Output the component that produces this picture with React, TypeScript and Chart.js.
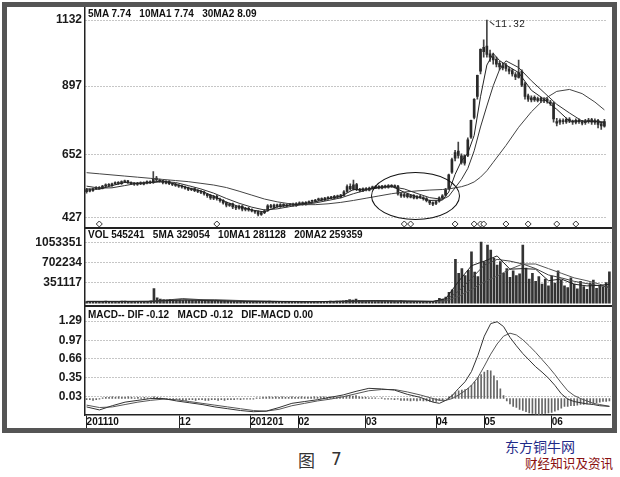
import React, { useEffect, useRef } from 'react';
import { Chart, registerables } from 'chart.js';

Chart.register(...registerables);

// ---------------- price candles (value in 0.01 yuan) ----------------
const opens = [
  520, 528, 524, 531, 536, 533, 540, 546, 542, 549,
  553, 549, 555, 559, 552, 550, 546, 552, 547, 551,
  556, 552, 569, 561, 559, 551, 557, 548, 547, 542,
  541, 536, 534, 527, 531, 525, 520, 519, 511, 507,
  497, 504, 494, 489, 481, 471, 477, 467, 461, 469,
  457, 461, 456, 451, 449, 439, 445, 453, 471, 464,
  473, 467, 475, 469, 474, 477, 471, 477, 481, 475,
  481, 486, 486, 491, 495, 491, 496, 501, 497, 505,
  501, 507, 521, 539, 529, 546, 529, 523, 531, 526,
  534, 535, 539, 533, 541, 536, 543, 538, 540, 513,
  504, 511, 501, 507, 497, 504, 499, 496, 487, 481,
  478, 486, 497, 508, 532, 590, 640, 665, 648, 622,
  650, 715, 785, 860, 950, 1020, 1040, 1012, 1002, 992,
  978, 962, 972, 958, 952, 938, 928, 950, 905, 862,
  848, 857, 846, 853, 844, 851, 840, 836, 770, 768,
  772, 769, 779, 771, 767, 776, 768, 766, 771, 777,
  767, 775, 762, 754,
];
const closes = [
  528, 522, 530, 535, 532, 540, 545, 543, 548, 552,
  550, 556, 558, 553, 549, 547, 551, 548, 552, 556,
  553, 568, 562, 558, 552, 556, 549, 546, 543, 540,
  537, 533, 528, 530, 524, 521, 518, 512, 506, 498,
  503, 495, 488, 480, 472, 476, 466, 462, 468, 458,
  460, 455, 452, 448, 440, 446, 452, 470, 465, 472,
  468, 474, 470, 473, 476, 472, 478, 480, 476, 482,
  485, 487, 490, 494, 492, 497, 500, 498, 504, 502,
  508, 520, 538, 530, 545, 528, 524, 530, 527, 533,
  536, 538, 534, 540, 537, 542, 539, 541, 512, 505,
  510, 502, 506, 498, 503, 500, 495, 488, 480, 476,
  485, 498, 505, 528, 580, 635, 660, 650, 625, 648,
  705, 775, 850, 935, 1028, 1035, 1010, 1000, 990, 975,
  965, 970, 960, 950, 940, 930, 945, 900, 860, 850,
  855, 848, 852, 845, 850, 842, 835, 780, 765, 775,
  770, 778, 772, 768, 775, 770, 765, 772, 776, 768,
  774, 760, 755, 770,
];
const highs = [
  532, 530, 533, 538, 538, 543, 548, 549, 551, 555,
  556, 559, 562, 561, 555, 553, 554, 555, 555, 559,
  559, 592, 575, 565, 561, 560, 560, 551, 550, 545,
  544, 540, 537, 533, 534, 528, 524, 522, 514, 510,
  507, 507, 497, 492, 484, 480, 480, 470, 472, 471,
  464, 464, 459, 454, 452, 450, 456, 474, 475, 476,
  476, 478, 478, 476, 479, 480, 481, 484, 484, 485,
  488, 490, 493, 497, 498, 500, 503, 504, 507, 508,
  511, 524, 545, 548, 562, 550, 532, 534, 535, 537,
  540, 542, 542, 543, 544, 546, 546, 545, 543, 516,
  514, 514, 509, 510, 506, 507, 503, 499, 490, 484,
  488, 502, 510, 532, 583, 640, 668, 697, 655, 652,
  712, 776, 852, 936, 1030, 1062, 1132, 1025, 1015, 1000,
  985, 980, 978, 965, 958, 945, 990, 955, 910, 868,
  862, 862, 858, 858, 856, 855, 846, 840, 782, 780,
  780, 784, 785, 776, 780, 780, 775, 778, 782, 782,
  780, 778, 766, 778,
];
const lows = [
  515, 519, 521, 528, 529, 530, 537, 540, 539, 546,
  546, 546, 552, 550, 545, 543, 543, 545, 544, 548,
  549, 550, 558, 554, 548, 548, 545, 542, 539, 535,
  533, 529, 524, 524, 520, 517, 513, 508, 500, 493,
  492, 490, 483, 476, 466, 468, 460, 456, 458, 452,
  452, 451, 448, 443, 434, 436, 442, 450, 461, 460,
  464, 464, 467, 466, 471, 469, 468, 474, 472, 472,
  478, 482, 483, 488, 489, 488, 493, 495, 494, 498,
  498, 505, 518, 526, 526, 524, 519, 520, 523, 523,
  530, 531, 530, 530, 533, 533, 535, 534, 508, 500,
  500, 498, 498, 494, 494, 496, 490, 484, 474, 470,
  474, 483, 494, 505, 528, 585, 630, 640, 618, 615,
  645, 710, 780, 850, 940, 1000, 1000, 985, 975, 965,
  955, 955, 950, 940, 932, 920, 925, 895, 850, 842,
  840, 842, 840, 838, 838, 836, 828, 768, 755, 760,
  762, 764, 766, 760, 762, 764, 758, 760, 765, 760,
  760, 748, 742, 750,
];

// price moving averages, read at sample days
const maX = [0, 4, 8, 12, 16, 20, 24, 28, 32, 36, 40, 44, 48, 52, 56, 60, 64, 68, 72, 76, 80, 84, 88, 92, 96, 100, 104, 108, 112, 114, 116, 118, 120, 122, 124, 126, 128, 130, 132, 136, 140, 144, 148, 152, 156, 160, 163];
const ma5 = [530, 529, 542, 553, 550, 553, 559, 547, 534, 523, 504, 483, 467, 455, 448, 466, 472, 477, 484, 495, 503, 528, 529, 536, 540, 518, 502, 489, 490, 519, 582, 630, 658, 721, 859, 972, 1013, 988, 972, 945, 882, 850, 814, 772, 772, 771, 765];
const ma10 = [540, 533, 534, 542, 550, 552, 556, 553, 542, 530, 515, 496, 479, 465, 455, 459, 467, 474, 480, 489, 498, 513, 526, 534, 538, 530, 514, 499, 493, 504, 534, 564, 603, 666, 751, 826, 898, 956, 987, 963, 916, 874, 832, 801, 772, 772, 769];
const ma30 = [588, 584, 580, 576, 572, 568, 564, 560, 556, 550, 544, 535, 522, 508, 494, 484, 477, 474, 474, 477, 482, 489, 497, 505, 513, 519, 523, 526, 528, 530, 534, 538, 545, 555, 572, 595, 625, 655, 685, 750, 805, 850, 878, 885, 870, 840, 812];

// diamond markers under the candles
const markDays = [4, 41, 100, 102, 116, 122, 124, 125, 132, 139, 148, 154];
const markLevel = 405;

// ---------------- volume ----------------
const volumes = [
  30000, 26000, 34000, 28000, 25000, 31000, 36000, 29000, 27000, 33000,
  30000, 35000, 38000, 28000, 24000, 26000, 31000, 27000, 29000, 34000,
  42000, 255000, 95000, 70000, 62000, 58000, 66000, 54000, 60000, 57000,
  52000, 55000, 48000, 50000, 46000, 44000, 47000, 42000, 40000, 45000,
  41000, 38000, 36000, 40000, 34000, 37000, 33000, 30000, 35000, 32000,
  28000, 30000, 27000, 29000, 33000, 31000, 28000, 36000, 32000, 30000,
  26000, 29000, 25000, 27000, 24000, 28000, 26000, 23000, 27000, 25000,
  29000, 31000, 28000, 33000, 30000, 34000, 36000, 32000, 35000, 38000,
  40000, 48000, 62000, 55000, 70000, 52000, 44000, 41000, 38000, 42000,
  36000, 39000, 34000, 37000, 33000, 35000, 31000, 30000, 45000, 38000,
  33000, 30000, 29000, 27000, 31000, 28000, 26000, 30000, 34000, 40000,
  85000, 70000, 105000, 190000, 230000, 760000, 520000, 600000, 480000, 570000,
  890000, 540000, 460000, 1060000, 720000, 1010000, 920000, 780000, 660000, 720000,
  520000, 600000, 450000, 560000, 480000, 510000, 1010000, 610000, 420000, 520000,
  380000, 460000, 330000, 420000, 300000, 470000, 350000, 560000, 400000, 300000,
  270000, 440000, 330000, 250000, 380000, 290000, 240000, 350000, 400000, 260000,
  310000, 280000, 360000, 545241,
];
const volMaX = [0, 10, 20, 30, 40, 50, 60, 70, 80, 90, 100, 108, 112, 116, 120, 124, 128, 132, 136, 140, 144, 148, 152, 156, 160, 163];
const vma5 = [30000, 31000, 33000, 57000, 42000, 32000, 30000, 26000, 35000, 42000, 35000, 30000, 80000, 380000, 650000, 730000, 820000, 590000, 600000, 590000, 390000, 420000, 330000, 300000, 310000, 329054];
const vma10 = [31000, 30000, 31000, 80000, 48000, 35000, 30000, 27000, 32000, 45000, 36000, 31000, 55000, 210000, 430000, 660000, 760000, 730000, 680000, 600000, 490000, 440000, 380000, 340000, 300000, 281128];
const vma20 = [32000, 31000, 32000, 55000, 62000, 42000, 32000, 29000, 30000, 38000, 38000, 34000, 40000, 120000, 240000, 370000, 470000, 590000, 680000, 680000, 600000, 520000, 440000, 390000, 330000, 259359];

// ---------------- MACD ----------------
const macdX = [0, 4, 8, 12, 16, 20, 24, 28, 32, 36, 40, 44, 48, 52, 56, 60, 64, 68, 72, 76, 80, 84, 88, 92, 96, 100, 104, 108, 110, 112, 114, 116, 118, 120, 122, 124, 126, 128, 130, 132, 134, 136, 138, 140, 142, 144, 146, 148, 150, 152, 154, 156, 158, 160, 163];
const dif = [-0.14, -0.19, -0.12, -0.06, -0.03, 0.0, 0.0, -0.04, -0.07, -0.1, -0.14, -0.17, -0.2, -0.22, -0.21, -0.15, -0.08, -0.05, -0.02, 0.02, 0.06, 0.12, 0.17, 0.16, 0.14, 0.07, 0.02, -0.06, -0.08, -0.03, 0.05, 0.17, 0.28, 0.45, 0.72, 1.04, 1.25, 1.28, 1.2, 1.02, 0.88, 0.75, 0.64, 0.53, 0.44, 0.34, 0.22, 0.08, -0.01, -0.05, -0.07, -0.09, -0.1, -0.12, -0.13];
const dea = [-0.11, -0.15, -0.14, -0.1, -0.06, -0.03, -0.01, -0.02, -0.05, -0.08, -0.11, -0.14, -0.17, -0.2, -0.21, -0.18, -0.12, -0.08, -0.04, -0.01, 0.03, 0.08, 0.13, 0.15, 0.15, 0.11, 0.06, 0.0, -0.03, -0.03, 0.0, 0.06, 0.13, 0.22, 0.35, 0.54, 0.74, 0.91, 1.04, 1.09, 1.06, 0.98, 0.88, 0.77, 0.65, 0.53, 0.4, 0.26, 0.13, 0.05, 0.0, -0.04, -0.08, -0.1, -0.13];
const macdBars = [
  -0.02, -0.02, -0.03, -0.02, -0.01, 0.01, 0.02, 0.02, 0.03, 0.02,
  0.03, 0.02, 0.02, 0.03, 0.02, 0.01, 0.02, 0.01, 0.02, 0.01,
  0.01, 0.03, 0.02, 0.01, -0.01, -0.01, -0.02, -0.02, -0.01, -0.02,
  -0.02, -0.03, -0.02, -0.02, -0.03, -0.02, -0.02, -0.03, -0.03, -0.02,
  -0.02, -0.03, -0.02, -0.03, -0.02, -0.02, -0.02, -0.01, -0.02, -0.01,
  -0.01, -0.01, -0.01, 0.01, 0.01, 0.02, 0.02, 0.03, 0.02, 0.03,
  0.02, 0.03, 0.02, 0.02, 0.03, 0.02, 0.02, 0.03, 0.02, 0.02,
  0.02, 0.03, 0.02, 0.03, 0.03, 0.02, 0.03, 0.03, 0.02, 0.03,
  0.03, 0.04, 0.05, 0.04, 0.05, 0.03, 0.02, 0.02, 0.01, 0.01,
  0.01, 0.0, 0.01, -0.01, -0.01, -0.01, -0.02, -0.01, -0.03, -0.03,
  -0.03, -0.04, -0.03, -0.04, -0.03, -0.04, -0.04, -0.05, -0.05, -0.05,
  -0.03, -0.02, 0.0, 0.03, 0.06, 0.1, 0.13, 0.14, 0.15, 0.17,
  0.22, 0.28, 0.35, 0.4, 0.44, 0.47, 0.46, 0.38, 0.3, 0.16,
  0.05, -0.04, -0.09, -0.13, -0.15, -0.18, -0.2, -0.22, -0.24, -0.25,
  -0.26, -0.27, -0.26, -0.25, -0.24, -0.23, -0.21, -0.19, -0.16, -0.13,
  -0.13, -0.12, -0.12, -0.11, -0.1, -0.1, -0.09, -0.08, -0.08, -0.07,
  -0.06, -0.05, -0.05, -0.04,
];

// ---------------- axis ticks ----------------
const priceTicks = [427, 652, 897, 1132];
const volTicks = [351117, 702234, 1053351];
const macdTicks = [0.03, 0.35, 0.66, 0.97, 1.29];
const dateTickDays = [0, 29, 51, 66, 87, 109, 124, 145];
const dateTickLabels = ['201110', '12', '201201', '02', '03', '04', '05', '06'];

const priceHeader = '5MA 7.74   10MA1 7.74   30MA2 8.09';
const volHeader = 'VOL 545241   5MA 329054   10MA1 281128   20MA2 259359';
const macdHeader = 'MACD-- DIF -0.12   MACD -0.12   DIF-MACD 0.00';
const peakLabel = '11.32';

// ---------------- helpers ----------------
const FONT = '"Liberation Sans", Arial, Helvetica, sans-serif';
const N = closes.length;
const X_MIN = -0.5;
const X_MAX = N - 0.5;

const pts = (xs: number[], ys: number[]) => xs.map((x, k) => ({ x, y: ys[k] }));

function yAxis(min: number, max: number, tickVals: number[], fmt: (v: number) => string) {
  return {
    type: 'linear',
    position: 'left',
    min,
    max,
    afterBuildTicks: (s: any) => {
      s.ticks = tickVals.map((v) => ({ value: v }));
    },
    afterFit: (s: any) => {
      s.width = 77;
    },
    ticks: {
      callback: (v: any) => fmt(Number(v)),
      color: '#1a1a1a',
      font: { family: FONT, size: 12, weight: 'bold' },
      padding: 3,
      autoSkip: false,
    },
    grid: { display: true, drawTicks: false, color: '#8c8c8c', lineWidth: 1 },
    border: { display: true, color: '#222', width: 1.5, dash: [1, 2] },
  };
}

const hiddenX = { type: 'linear', min: X_MIN, max: X_MAX, offset: false, display: false, grid: { offset: false } };

function baseOptions(scales: any, bottomPad: number) {
  return {
    responsive: false,
    maintainAspectRatio: false,
    animation: false,
    devicePixelRatio: 1,
    events: [],
    layout: { padding: { top: 10, bottom: bottomPad, left: 0, right: 0 } },
    plugins: { legend: { display: false }, tooltip: { enabled: false } },
    scales,
  };
}

function lineDs(xs: number[], ys: number[], color: string, order: number) {
  return {
    type: 'line',
    data: pts(xs, ys),
    borderColor: color,
    borderWidth: 1,
    pointRadius: 0,
    tension: 0,
    fill: false,
    order,
  };
}

function priceConfig(): any {
  return {
    type: 'bar',
    data: {
      datasets: [
        {
          type: 'line',
          data: markDays.map((d) => ({ x: d, y: markLevel })),
          showLine: false,
          pointStyle: 'rectRot',
          pointRadius: 3,
          pointBackgroundColor: '#fff',
          pointBorderColor: '#333',
          pointBorderWidth: 1,
          order: 0,
        },
        lineDs(maX, ma5, '#222', 1),
        lineDs(maX, ma10, '#333', 1),
        lineDs(maX, ma30, '#444', 1),
        {
          type: 'bar',
          data: opens.map((o, i) => ({ x: i, y: [o, closes[i]] })),
          backgroundColor: '#2a2a2a',
          barThickness: 2,
          minBarLength: 1,
          grouped: false,
          order: 3,
        },
        {
          type: 'bar',
          data: lows.map((l, i) => ({ x: i, y: [l, highs[i]] })),
          backgroundColor: '#444',
          barThickness: 1,
          grouped: false,
          order: 4,
        },
      ],
    },
    options: baseOptions(
      {
        x: hiddenX,
        y: yAxis(391.4, 1178.3, priceTicks, (v) => String(v)),
      },
      10,
    ),
  };
}

function volConfig(): any {
  return {
    type: 'bar',
    data: {
      datasets: [
        lineDs(volMaX, vma5, '#222', 1),
        lineDs(volMaX, vma10, '#444', 1),
        lineDs(volMaX, vma20, '#555', 1),
        {
          type: 'bar',
          data: volumes.map((v, i) => ({ x: i, y: v })),
          backgroundColor: '#333',
          barThickness: 2,
          grouped: false,
          order: 3,
        },
      ],
    },
    options: baseOptions(
      {
        x: hiddenX,
        y: yAxis(-44860, 1283700, volTicks, (v) => String(v)),
      },
      10,
    ),
  };
}

function macdConfig(): any {
  return {
    type: 'bar',
    data: {
      datasets: [
        lineDs(macdX, dif, '#333', 1),
        lineDs(macdX, dea, '#555', 1),
        {
          type: 'bar',
          data: macdBars.map((v, i) => ({ x: i, y: v })),
          backgroundColor: '#666',
          barThickness: 1,
          grouped: false,
          order: 3,
        },
      ],
    },
    options: baseOptions(
      {
        x: {
          type: 'linear',
          position: 'bottom',
          min: X_MIN,
          max: X_MAX,
          offset: false,
          afterBuildTicks: (s: any) => {
            s.ticks = dateTickDays.map((v) => ({ value: v }));
          },
          afterFit: (s: any) => {
            s.height = 13;
          },
          ticks: {
            callback: (_v: any, idx: number) => dateTickLabels[idx],
            align: 'start',
            padding: -12,
            maxRotation: 0,
            minRotation: 0,
            autoSkip: false,
            color: '#111',
            font: { family: FONT, size: 10, weight: 'bold' },
          },
          grid: {
            offset: false,
            drawOnChartArea: false,
            drawTicks: true,
            tickLength: 13,
            color: '#222',
            tickColor: '#222',
            tickWidth: 1,
          },
          border: { display: true, color: '#222', width: 1.5 },
        },
        y: yAxis(-0.2746, 1.523, macdTicks, (v) => v.toFixed(2)),
      },
      0,
    ),
  };
}

const headerStyle: any = {
  position: 'absolute',
  left: 88,
  font: `bold 10px ${FONT}`,
  color: '#111',
  whiteSpace: 'pre',
  lineHeight: '10px',
};

export default function App() {
  const pRef = useRef<HTMLCanvasElement>(null);
  const vRef = useRef<HTMLCanvasElement>(null);
  const mRef = useRef<HTMLCanvasElement>(null);

  useEffect(() => {
    const charts: Chart[] = [];
    if (pRef.current) charts.push(new Chart(pRef.current, priceConfig()));
    if (vRef.current) charts.push(new Chart(vRef.current, volConfig()));
    if (mRef.current) charts.push(new Chart(mRef.current, macdConfig()));
    return () => charts.forEach((c) => c.destroy());
  }, []);

  const cv = (left: number, top: number, w: number, h: number): any => ({
    position: 'absolute',
    left,
    top,
    width: w,
    height: h,
  });

  return (
    <div
      style={{
        position: 'absolute',
        left: 0,
        top: 0,
        width: 620,
        height: 477,
        background: '#fff',
        overflow: 'hidden',
        fontFamily: FONT,
      }}
    >
      <canvas ref={pRef} width={603} height={241} style={cv(8, -3, 603, 241)} />
      <canvas ref={vRef} width={603} height={97} style={cv(8, 219, 603, 97)} />
      <canvas ref={mRef} width={603} height={131} style={cv(8, 297, 603, 131)} />

      {/* panel separators */}
      <div style={{ position: 'absolute', left: 85, top: 227, width: 527, height: 2, background: '#222' }} />
      <div style={{ position: 'absolute', left: 85, top: 305, width: 527, height: 2, background: '#222' }} />

      {/* outer frame */}
      <div
        style={{
          position: 'absolute',
          left: 2,
          top: 2,
          width: 615,
          height: 431,
          border: '5px solid #555',
          boxSizing: 'border-box',
        }}
      />

      <div style={{ ...headerStyle, top: 9 }}>{priceHeader}</div>
      <div style={{ ...headerStyle, top: 230 }}>{volHeader}</div>
      <div style={{ ...headerStyle, top: 310 }}>{macdHeader}</div>

      {/* peak annotation */}
      <div
        style={{
          position: 'absolute',
          left: 490,
          top: 21,
          width: 6,
          height: 1,
          background: '#333',
          transform: 'rotate(40deg)',
          transformOrigin: '0 0',
        }}
      />
      <div
        style={{
          position: 'absolute',
          left: 495,
          top: 20,
          font: '10px "Liberation Mono", "DejaVu Sans Mono", monospace',
          color: '#222',
          lineHeight: '10px',
        }}
      >
        {peakLabel}
      </div>

      {/* highlighted area */}
      <div
        style={{
          position: 'absolute',
          left: 371,
          top: 172,
          width: 89,
          height: 48,
          border: '1.5px solid #111',
          borderRadius: '50%',
          boxSizing: 'border-box',
        }}
      />

      {/* caption */}
      <div
        style={{
          position: 'absolute',
          left: 298,
          top: 451,
          font: '17px "Noto Sans CJK SC", sans-serif',
          lineHeight: '17px',
          color: '#333',
        }}
      >
        图
      </div>
      <div
        style={{
          position: 'absolute',
          left: 331,
          top: 451,
          font: '17px "DejaVu Sans", sans-serif',
          lineHeight: '17px',
          color: '#333',
        }}
      >
        7
      </div>

      {/* watermark */}
      <div
        style={{
          position: 'absolute',
          left: 505,
          top: 439,
          font: '14px "Noto Sans CJK SC", sans-serif',
          lineHeight: '14px',
          color: '#1f2a88',
        }}
      >
        东方铜牛网
      </div>
      <div
        style={{
          position: 'absolute',
          left: 525,
          top: 456,
          font: '12.6px "Noto Sans CJK SC", sans-serif',
          lineHeight: '13px',
          color: '#8a1010',
        }}
      >
        财经知识及资讯
      </div>
    </div>
  );
}
